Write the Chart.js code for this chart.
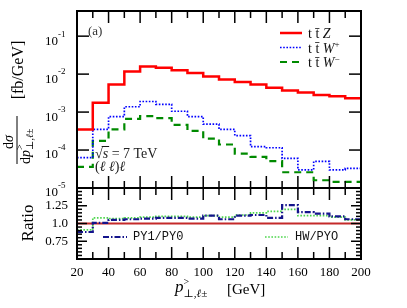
<!DOCTYPE html>
<html>
<head>
<meta charset="utf-8">
<script src="https://cdn.jsdelivr.net/npm/chart.js@4.4.1/dist/chart.umd.min.js"></script>
<style>
  html, body { margin: 0; padding: 0; background: #fff; overflow: hidden; }
  #wrap { position: relative; width: 407px; height: 308px; }
  canvas { position: absolute; left: 0; }
  #top { top: 0; }
  #bot { top: 180px; }
</style>
</head>
<body>
<div id="wrap">
  <canvas id="top" width="407" height="200"></canvas>
  <canvas id="bot" width="407" height="128"></canvas>
</div>
<script>
// bin edges in GeV
const edges = [20, 30, 40, 50, 60, 70, 80, 90, 100, 110, 120, 130, 140, 150, 160, 170, 180, 190, 200];

// dsigma/dpT [fb/GeV], one value per bin
const ttZ  = [3.5e-4, 1.75e-3, 5.3e-3, 1.18e-2, 1.58e-2, 1.48e-2, 1.26e-2, 1.07e-2, 8.7e-3,
              7.2e-3, 6.2e-3, 5.3e-3, 4.4e-3, 3.7e-3, 3.3e-3, 2.8e-3, 2.6e-3, 2.3e-3];
const ttWp = [6.3e-5, 3.5e-4, 7.6e-4, 1.38e-3, 1.9e-3, 1.6e-3, 1.05e-3, 7.6e-4, 4.8e-4,
              3.5e-4, 2.4e-4, 1.23e-4, 1.15e-4, 6.0e-5, 3.0e-5, 5.0e-5, 3.0e-5, 3.3e-5];
const ttWm = [3.6e-5, 1.74e-4, 3.5e-4, 6.6e-4, 7.8e-4, 6.9e-4, 4.6e-4, 3.2e-4, 2.0e-4,
              1.4e-4, 8.0e-5, 6.6e-5, 5.1e-5, 2.6e-5, 2.6e-5, 1.6e-5, 1.45e-5, 1.45e-5];

// ratio panel
const refX = [20, 200];
const refLine = [1, 1];
const py1py0 = [0.88, 1.01, 1.05, 1.06, 1.07, 1.08, 1.08, 1.07, 1.11,
                1.06, 1.11, 1.12, 1.08, 1.26, 1.16, 1.14, 1.10, 1.06];
const hwpy0  = [0.91, 1.08, 1.07, 1.08, 1.09, 1.10, 1.10, 1.09, 1.11,
                1.09, 1.12, 1.15, 1.17, 1.20, 1.11, 1.11, 1.09, 1.05];

// tick labels
const decades = [-1, -2, -3, -4, -5];
const ratioLabels = ["1.25", "1.0", "0.75"];

const serif = "'Liberation Serif','DejaVu Serif',serif";
const mono = "'Liberation Mono','DejaVu Sans Mono',monospace";

// histogram -> step points (last bin closed at the upper edge)
function steps(vals) {
    const pts = vals.map((v, i) => ({ x: edges[i], y: v }));
    pts.push({ x: edges[vals.length], y: vals[vals.length - 1] });
    return pts;
}

// draws text pieces one after another: [text, size, italic, dy]
function rich(ctx, x, y, parts) {
    let cx = x;
    for (const p of parts) {
        ctx.font = (p[2] ? "italic " : "") + p[1] + "px " + serif;
        ctx.fillText(p[0], cx, y + (p[3] || 0));
        cx += ctx.measureText(p[0]).width;
    }
    return cx;
}

function line(ctx, x1, y1, x2, y2) {
    ctx.beginPath();
    ctx.moveTo(x1, y1);
    ctx.lineTo(x2, y2);
    ctx.stroke();
}

const styles = {
    ttZ:  { borderColor: "#ff0000", borderWidth: 2.5, borderDash: [] },
    ttWp: { borderColor: "#0000ff", borderWidth: 1.7, borderDash: [1.6, 1.6] },
    ttWm: { borderColor: "#008a00", borderWidth: 2.2, borderDash: [7, 5] },
    ref:  { borderColor: "#c42a2a", borderWidth: 1.8, borderDash: [] },
    py1:  { borderColor: "#14148c", borderWidth: 2.2, borderDash: [6, 2, 1.5, 2] },
    hw:   { borderColor: "#4cd64c", borderWidth: 1.7, borderDash: [1.6, 1.6] }
};

function sample(ctx, st, x1, x2, y) {
    ctx.save();
    ctx.strokeStyle = st.borderColor;
    ctx.lineWidth = st.borderWidth;
    ctx.setLineDash(st.borderDash);
    line(ctx, x1, y, x2, y);
    ctx.restore();
}

function xTickMarks(ctx, xs, a, up, down) {
    for (let v = 20; v <= 200; v += 10) {
        const px = xs.getPixelForValue(v);
        const len = v % 20 === 0 ? 12 : 7;
        if (down) line(ctx, px, a.top, px, a.top + len);
        if (up) line(ctx, px, a.bottom, px, a.bottom - len);
    }
}

// ---------- top panel ----------
const topDecor = {
    id: "topDecor",
    afterDraw(chart) {
        const { ctx, chartArea: a, scales: { x, y } } = chart;
        ctx.save();
        ctx.strokeStyle = "#000";
        ctx.fillStyle = "#000";
        ctx.lineWidth = 1.5;
        xTickMarks(ctx, x, a, true, true);
        for (const e of decades) {
            const py = y.getPixelForValue(Math.pow(10, e));
            line(ctx, a.left, py, a.left + 12, py);
            line(ctx, a.right, py, a.right - 12, py);
            ctx.textBaseline = "middle";
            rich(ctx, 45, py + 5, [["10", 13]]);
            rich(ctx, 58, py - 2, [[String(e), 9]]);
        }
        ctx.lineWidth = 2;
        ctx.strokeRect(a.left, a.top, a.right - a.left, a.bottom - a.top);

        // y title (rotated)
        ctx.textBaseline = "alphabetic";
        ctx.save();
        ctx.translate(18, 70);
        ctx.rotate(-Math.PI / 2);
        ctx.font = "16px " + serif;
        ctx.textAlign = "center";
        ctx.fillText("[fb/GeV]", 0, 5);
        ctx.restore();

        ctx.save();
        ctx.translate(17, 140);
        ctx.rotate(-Math.PI / 2);
        ctx.lineWidth = 1;
        line(ctx, -24, 0, 24, 0);
        rich(ctx, -9, -4, [["d", 14], ["σ", 14, true]]);
        const e1 = rich(ctx, -24, 13, [["d", 14], ["p", 14, true]]);
        rich(ctx, e1, 16, [["⊥,ℓ±", 10, true]]);
        rich(ctx, e1, 6, [[">", 10]]);
        ctx.restore();

        // annotations
        ctx.fillStyle = "#333";
        rich(ctx, 88, 35, [["(a)", 13]]);
        ctx.fillStyle = "#222";
        const s0 = rich(ctx, 95, 158, [["√", 14]]);
        const s1 = rich(ctx, s0, 158, [["s", 14, true]]);
        ctx.lineWidth = 0.9;
        line(ctx, s0 - 1, 146.5, s1 + 1, 146.5);
        rich(ctx, s1, 158, [[" = 7 TeV", 14]]);
        rich(ctx, 95, 171, [["(", 14], ["ℓ ℓ", 14, true], [")", 14], ["ℓ", 14, true]]);

        // legend
        ctx.fillStyle = "#111";
        sample(ctx, styles.ttZ, 280, 302, 33);
        sample(ctx, styles.ttWp, 280, 302, 47.5);
        sample(ctx, styles.ttWm, 280, 302, 62);
        rich(ctx, 308, 38, [["t t̄ ", 14], ["Z", 14, true]]);
        const w1 = rich(ctx, 308, 52.5, [["t t̄ ", 14], ["W", 14, true]]);
        rich(ctx, w1, 47, [["+", 9]]);
        const w2 = rich(ctx, 308, 67, [["t t̄ ", 14], ["W", 14, true]]);
        rich(ctx, w2, 61.5, [["−", 9]]);
        ctx.restore();
    }
};

new Chart(document.getElementById("top"), {
    type: "line",
    data: {
        datasets: [
            Object.assign({ label: "ttZ", data: steps(ttZ) }, styles.ttZ),
            Object.assign({ label: "ttW+", data: steps(ttWp) }, styles.ttWp),
            Object.assign({ label: "ttW-", data: steps(ttWm) }, styles.ttWm)
        ]
    },
    options: {
        responsive: false,
        animation: false,
        devicePixelRatio: 1,
        events: [],
        layout: { padding: { left: 77, right: 46, top: 11, bottom: 12 } },
        elements: { point: { radius: 0 }, line: { stepped: "before", fill: false, borderJoinStyle: "miter" } },
        plugins: { legend: { display: false }, tooltip: { enabled: false } },
        scales: {
            x: { type: "linear", min: 20, max: 200, display: false },
            y: { type: "logarithmic", min: 1e-5, max: 0.46, display: false }
        }
    },
    plugins: [topDecor]
});

// ---------- ratio panel ----------
const botDecor = {
    id: "botDecor",
    afterDraw(chart) {
        const { ctx, chartArea: a, scales: { x, y } } = chart;
        ctx.save();
        ctx.strokeStyle = "#000";
        ctx.fillStyle = "#000";
        ctx.lineWidth = 1.5;
        xTickMarks(ctx, x, a, true, true);
        for (let i = 0; i <= 20; i++) {
            const v = 0.5 + i * 0.05;
            const py = y.getPixelForValue(v);
            const len = i % 5 === 0 ? 10 : 5;
            line(ctx, a.left, py, a.left + len, py);
            line(ctx, a.right, py, a.right - len, py);
        }
        ctx.lineWidth = 2;
        ctx.strokeRect(a.left, a.top, a.right - a.left, a.bottom - a.top);

        ctx.textAlign = "right";
        ctx.textBaseline = "middle";
        ctx.font = "13px " + serif;
        for (const t of ratioLabels) {
            ctx.fillText(t, 68, y.getPixelForValue(Number(t)));
        }

        ctx.save();
        ctx.translate(29, 43);
        ctx.rotate(-Math.PI / 2);
        ctx.textAlign = "center";
        ctx.font = "17px " + serif;
        ctx.fillText("Ratio", 0, 0);
        ctx.restore();

        // legend
        ctx.textAlign = "left";
        sample(ctx, styles.py1, 103, 127, 57);
        sample(ctx, styles.hw, 265, 288, 57);
        ctx.font = "12px " + mono;
        ctx.fillStyle = "#111";
        ctx.fillText("PY1/PY0", 133, 57);
        ctx.fillText("HW/PYO", 295, 57);

        // x title
        ctx.textBaseline = "alphabetic";
        ctx.fillStyle = "#000";
        const p1 = rich(ctx, 175, 112, [["p", 17, true]]);
        rich(ctx, p1, 105, [[">", 10]]);
        rich(ctx, p1, 117, [["⊥,ℓ±", 11, true]]);
        rich(ctx, 227, 114, [["[GeV]", 15]]);
        ctx.restore();
    }
};

new Chart(document.getElementById("bot"), {
    type: "line",
    data: {
        datasets: [
            Object.assign({ label: "PY1/PY0", data: steps(py1py0) }, styles.py1),
            Object.assign({ label: "HW/PY0", data: steps(hwpy0) }, styles.hw),
            Object.assign({ label: "PY0", data: refX.map((v, i) => ({ x: v, y: refLine[i] })) }, styles.ref)
        ]
    },
    options: {
        responsive: false,
        animation: false,
        devicePixelRatio: 1,
        events: [],
        layout: { padding: { left: 77, right: 46, top: 8, bottom: 0 } },
        elements: { point: { radius: 0 }, line: { stepped: "before", fill: false, borderJoinStyle: "miter" } },
        plugins: { legend: { display: false }, tooltip: { enabled: false } },
        scales: {
            x: {
                type: "linear", min: 20, max: 200,
                grid: { display: false, drawTicks: false },
                border: { display: false },
                ticks: { stepSize: 20, padding: 6, maxRotation: 0, autoSkip: false, color: "#000",
                         font: { family: serif, size: 13 } },
                afterFit(s) { s.height = 49; }
            },
            y: { type: "linear", min: 0.5, max: 1.5, display: false }
        }
    },
    plugins: [botDecor]
});
</script>
</body>
</html>
